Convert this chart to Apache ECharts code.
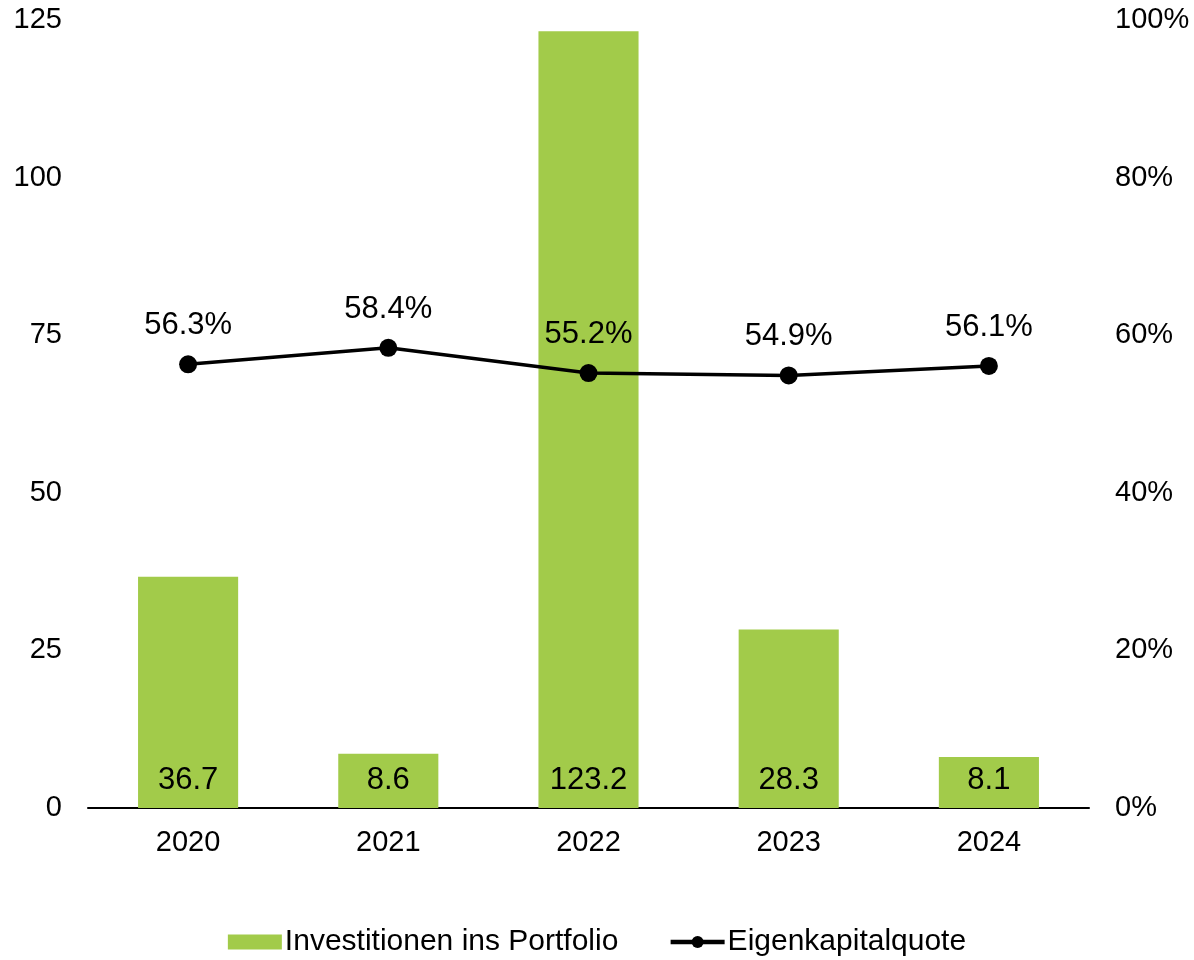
<!DOCTYPE html>
<html>
<head>
<meta charset="utf-8">
<script src="https://cdn.jsdelivr.net/npm/echarts@6/dist/echarts.min.js"></script>
<style>
  html, body { margin: 0; padding: 0; background: #fff; }
  #chart { width: 1194px; height: 960px; }
</style>
</head>
<body>
<div id="chart"></div>
<script>
const years = ["2020", "2021", "2022", "2023", "2024"];
const investitionen = [36.7, 8.6, 123.2, 28.3, 8.1];
const eigenkapitalquote = [56.3, 58.4, 55.2, 54.9, 56.1];

const font = "Liberation Sans, Arial, sans-serif";
const chart = echarts.init(document.getElementById("chart"));

chart.setOption({
  animation: false,
  textStyle: { fontFamily: font, color: "#000" },
  grid: { left: 88, right: 105, top: 20, bottom: 152 },
  legend: {
    bottom: 3,
    padding: 0,
    left: "center",
    itemGap: 50,
    itemWidth: 54,
    itemHeight: 15,
    textStyle: { fontSize: 30, color: "#000", fontFamily: font, padding: [0, 0, 0, -2] },
    data: [
      { name: "Investitionen ins Portfolio", icon: "rect" },
      { name: "Eigenkapitalquote", lineStyle: { width: 4.5 } }
    ]
  },
  xAxis: {
    type: "category",
    data: years,
    axisLine: { lineStyle: { color: "#000", width: 2 } },
    axisTick: { show: false },
    axisLabel: { fontSize: 29, color: "#000", margin: 20, fontFamily: font }
  },
  yAxis: [
    {
      type: "value",
      min: 0,
      max: 125,
      interval: 25,
      axisLine: { show: false },
      axisTick: { show: false },
      splitLine: { show: false },
      axisLabel: { fontSize: 29, color: "#000", margin: 26, fontFamily: font }
    },
    {
      type: "value",
      min: 0,
      max: 100,
      interval: 20,
      axisLine: { show: false },
      axisTick: { show: false },
      splitLine: { show: false },
      axisLabel: { fontSize: 29, color: "#000", margin: 26, fontFamily: font, formatter: "{value}%" }
    }
  ],
  series: [
    {
      name: "Investitionen ins Portfolio",
      type: "bar",
      data: investitionen,
      barWidth: "50%",
      itemStyle: { color: "#a2cb4a" },
      label: {
        show: true,
        position: "insideBottom",
        distance: 12,
        fontSize: 31,
        color: "#000",
        fontFamily: font,
        formatter: p => p.value.toFixed(1)
      }
    },
    {
      name: "Eigenkapitalquote",
      type: "line",
      yAxisIndex: 1,
      data: eigenkapitalquote,
      symbol: "circle",
      symbolSize: 18,
      lineStyle: { color: "#000", width: 3.5 },
      itemStyle: { color: "#000" },
      label: {
        show: true,
        position: "top",
        distance: 14,
        fontSize: 31,
        color: "#000",
        fontFamily: font,
        formatter: p => p.value.toFixed(1) + "%"
      }
    }
  ]
});
</script>
</body>
</html>
